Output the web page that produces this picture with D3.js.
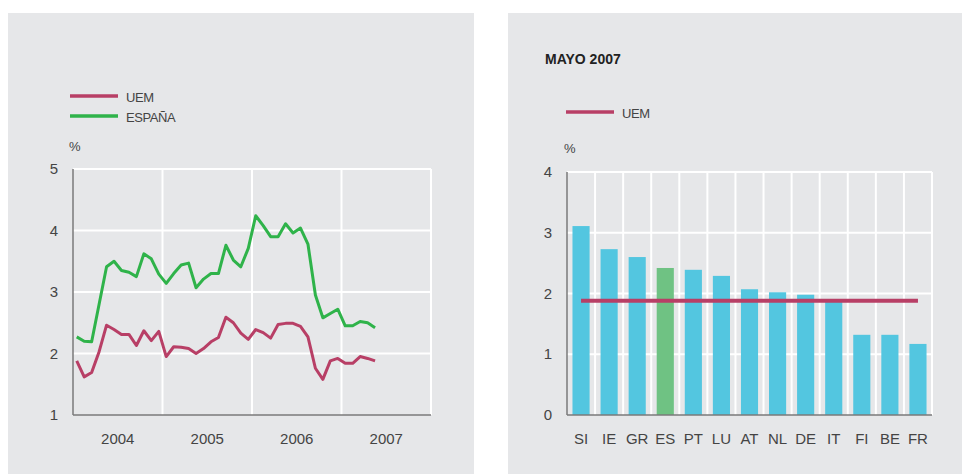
<!DOCTYPE html>
<html>
<head>
<meta charset="utf-8">
<script src="https://cdn.jsdelivr.net/npm/d3@7"></script>
<style>
  body { margin: 0; background: #fff; }
  svg { display: block; font-family: "Liberation Sans", Arial, sans-serif; }
</style>
</head>
<body>
<svg width="962" height="474"></svg>
<script>
// monthly series, Jan 2004 .. May 2007
const uem = [1.88, 1.62, 1.69, 2.03, 2.46, 2.39, 2.31, 2.31, 2.13, 2.37, 2.21, 2.36,
  1.95, 2.11, 2.10, 2.08, 2.00, 2.08, 2.19, 2.26, 2.59, 2.50, 2.33, 2.23,
  2.39, 2.34, 2.25, 2.47, 2.49, 2.49, 2.44, 2.27, 1.76, 1.58, 1.88, 1.92,
  1.84, 1.84, 1.95, 1.92, 1.88];
const espana = [2.27, 2.20, 2.19, 2.80, 3.41, 3.50, 3.35, 3.32, 3.25, 3.62, 3.54, 3.29,
  3.14, 3.30, 3.44, 3.47, 3.07, 3.21, 3.30, 3.30, 3.76, 3.52, 3.41, 3.71,
  4.24, 4.08, 3.90, 3.90, 4.11, 3.96, 4.04, 3.78, 2.95, 2.58, 2.65, 2.72,
  2.45, 2.45, 2.52, 2.50, 2.42];
const years = ["2004", "2005", "2006", "2007"];
const leftTicks = [1, 2, 3, 4, 5];

// May 2007 by country
const countries = ["SI", "IE", "GR", "ES", "PT", "LU", "AT", "NL", "DE", "IT", "FI", "BE", "FR"];
const mayValues = [3.11, 2.73, 2.60, 2.42, 2.39, 2.29, 2.07, 2.02, 1.98, 1.87, 1.32, 1.32, 1.17];
const uemMay = 1.88;
const rightTicks = [0, 1, 2, 3, 4];

const red = "#b83f66", green = "#2fb34a", cyan = "#53c6e0", esGreen = "#6fc283";
const panelBg = "#e6e7e9", axisCol = "#7a7a7a", textCol = "#444";

const svg = d3.select("svg");

svg.append("rect").attr("x", 8).attr("y", 13).attr("width", 466).attr("height", 470).attr("fill", panelBg);
svg.append("rect").attr("x", 508).attr("y", 13).attr("width", 460).attr("height", 470).attr("fill", panelBg);

// ---------- left chart ----------
const L = { left: 73, right: 431, top: 169, bottom: 415 };
const xTime = d3.scaleLinear().domain([0, 48]).range([L.left, L.right]);
const yL = d3.scaleLinear().domain([1, 5]).range([L.bottom, L.top]);

const gl = svg.append("g");
gl.selectAll(".hg").data(leftTicks.slice(1)).enter().append("line")
  .attr("x1", L.left).attr("x2", L.right)
  .attr("y1", d => yL(d)).attr("y2", d => yL(d))
  .attr("stroke", "#fff").attr("stroke-width", 2);
gl.selectAll(".vg").data([12, 24, 36, 48]).enter().append("line")
  .attr("x1", d => xTime(d)).attr("x2", d => xTime(d))
  .attr("y1", L.top).attr("y2", L.bottom)
  .attr("stroke", "#fff").attr("stroke-width", 2);

gl.selectAll(".yl").data(leftTicks).enter().append("text")
  .attr("x", L.left - 15).attr("y", d => yL(d) + 5)
  .attr("text-anchor", "end").attr("font-size", 15).attr("fill", textCol)
  .text(d => d);
gl.selectAll(".xl").data(years).enter().append("text")
  .attr("x", (d, i) => xTime(i * 12 + 6)).attr("y", 444)
  .attr("text-anchor", "middle").attr("font-size", 15).attr("fill", textCol)
  .text(d => d);

gl.append("line").attr("x1", L.left).attr("x2", L.left).attr("y1", L.top).attr("y2", L.bottom)
  .attr("stroke", axisCol).attr("stroke-width", 1.5);
gl.append("line").attr("x1", L.left).attr("x2", L.right).attr("y1", L.bottom).attr("y2", L.bottom)
  .attr("stroke", axisCol).attr("stroke-width", 1.5);

const line = d3.line().x((d, i) => xTime(i + 0.5)).y(d => yL(d));
gl.append("path").datum(espana).attr("d", line).attr("fill", "none")
  .attr("stroke", green).attr("stroke-width", 3).attr("stroke-linejoin", "round");
gl.append("path").datum(uem).attr("d", line).attr("fill", "none")
  .attr("stroke", red).attr("stroke-width", 3).attr("stroke-linejoin", "round");

// legend
const legL = [{ name: "UEM", col: red }, { name: "ESPAÑA", col: green }];
legL.forEach((s, i) => {
  const y = 96 + i * 20;
  gl.append("line").attr("x1", 70).attr("x2", 118).attr("y1", y).attr("y2", y)
    .attr("stroke", s.col).attr("stroke-width", 3.5);
  gl.append("text").attr("x", 126).attr("y", y + 6).attr("font-size", 13)
    .attr("letter-spacing", -0.4).attr("fill", textCol).text(s.name);
});
gl.append("text").attr("x", 69).attr("y", 151).attr("font-size", 13).attr("fill", textCol).text("%");

// ---------- right chart ----------
const R = { left: 567, right: 932, top: 172, bottom: 415 };
const xBand = d3.scaleBand().domain(countries).range([R.left, R.right]).padding(0);
const yR = d3.scaleLinear().domain([0, 4]).range([R.bottom, R.top]);

const gr = svg.append("g");
gr.selectAll(".hg").data(rightTicks.slice(1)).enter().append("line")
  .attr("x1", R.left).attr("x2", R.right)
  .attr("y1", d => yR(d)).attr("y2", d => yR(d))
  .attr("stroke", "#fff").attr("stroke-width", 2);
gr.selectAll(".vg").data(countries).enter().append("line")
  .attr("x1", d => xBand(d) + xBand.bandwidth()).attr("x2", d => xBand(d) + xBand.bandwidth())
  .attr("y1", R.top).attr("y2", R.bottom)
  .attr("stroke", "#fff").attr("stroke-width", 2);

const bw = xBand.bandwidth() * 0.61;
gr.selectAll(".bar").data(countries).enter().append("rect")
  .attr("x", d => xBand(d) + (xBand.bandwidth() - bw) / 2)
  .attr("y", (d, i) => yR(mayValues[i]))
  .attr("width", bw)
  .attr("height", (d, i) => yR(0) - yR(mayValues[i]))
  .attr("fill", d => d === "ES" ? esGreen : cyan);

gr.append("line")
  .attr("x1", xBand(countries[0]) + xBand.bandwidth() / 2)
  .attr("x2", xBand(countries[countries.length - 1]) + xBand.bandwidth() / 2)
  .attr("y1", yR(uemMay)).attr("y2", yR(uemMay))
  .attr("stroke", red).attr("stroke-width", 4);

gr.append("line").attr("x1", R.left).attr("x2", R.left).attr("y1", R.top).attr("y2", R.bottom)
  .attr("stroke", axisCol).attr("stroke-width", 1.5);
gr.append("line").attr("x1", R.left).attr("x2", R.right).attr("y1", R.bottom).attr("y2", R.bottom)
  .attr("stroke", axisCol).attr("stroke-width", 1.5);

gr.selectAll(".yl").data(rightTicks).enter().append("text")
  .attr("x", R.left - 15).attr("y", d => yR(d) + 5)
  .attr("text-anchor", "end").attr("font-size", 15).attr("fill", textCol)
  .text(d => d);
gr.selectAll(".xl").data(countries).enter().append("text")
  .attr("x", d => xBand(d) + xBand.bandwidth() / 2).attr("y", 444)
  .attr("text-anchor", "middle").attr("font-size", 15).attr("fill", textCol)
  .text(d => d);

gr.append("text").attr("x", 545).attr("y", 64).attr("font-size", 14)
  .attr("font-weight", "bold").attr("fill", "#222").text("MAYO 2007");
gr.append("line").attr("x1", 566).attr("x2", 614).attr("y1", 112).attr("y2", 112)
  .attr("stroke", red).attr("stroke-width", 3.5);
gr.append("text").attr("x", 622).attr("y", 118).attr("font-size", 13)
  .attr("letter-spacing", -0.4).attr("fill", textCol).text("UEM");
gr.append("text").attr("x", 564).attr("y", 153).attr("font-size", 13).attr("fill", textCol).text("%");
</script>
</body>
</html>
